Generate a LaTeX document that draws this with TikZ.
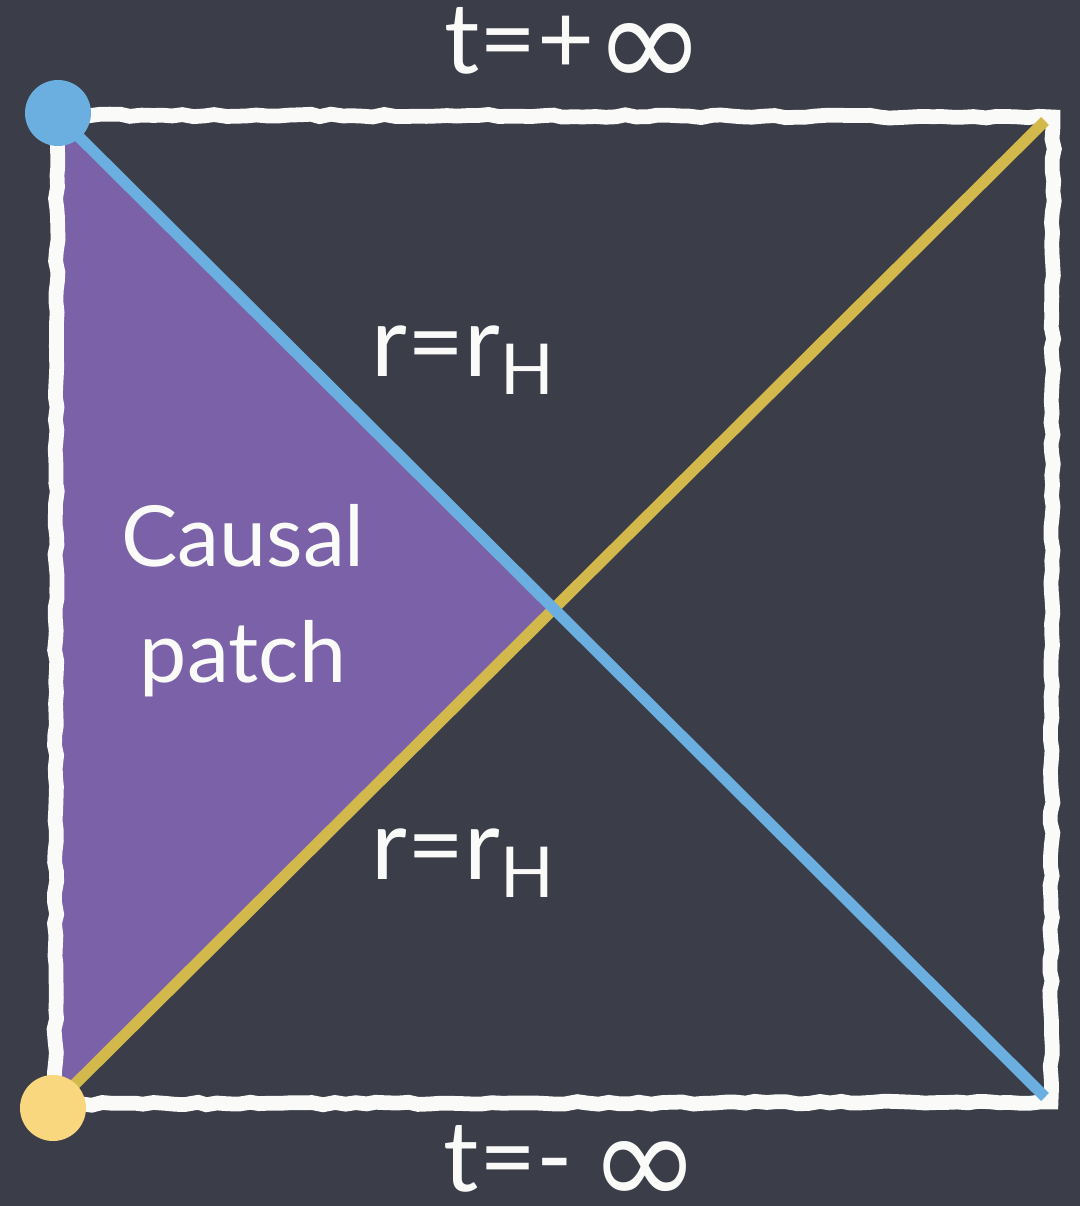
\documentclass[tikz,border=0pt]{standalone}
\usepackage{fontspec}
\setmainfont{Lato}
\newfontfamily\symfont{DejaVu Sans}
\usetikzlibrary{decorations.pathmorphing}
\definecolor{slate}{HTML}{3B3E48}
\definecolor{chalkwhite}{HTML}{FAFAF8}
\definecolor{horizonblue}{HTML}{6AAFE0}
\definecolor{horizongold}{HTML}{D3B84C}
\definecolor{pastgold}{HTML}{F9D77E}
\definecolor{patchpurple}{HTML}{7B62A8}
\newcommand{\bigInf}{\raisebox{-4pt}{\symfont\fontsize{38}{38}\selectfont ∞}}

\begin{document}
\begin{tikzpicture}[
    chalk/.style={draw=chalkwhite, line width=4.2pt,
      decorate, decoration={random steps, segment length=3pt, amplitude=0.4pt}},
    horizon/.style={line width=3.2pt},
    dot/.style={circle, minimum size=0.66cm, inner sep=0pt},
    board/.style={font=\fontsize{28}{34}\selectfont, text=chalkwhite},
    patchlbl/.style={font=\fontsize{24}{33}\selectfont, text=chalkwhite, align=center},
  ]
  % background
  \fill[slate] (0,0) rectangle (10.8,12.06);
  \useasboundingbox (0,0) rectangle (10.8,12.06);

  % corners of the diagram
  \coordinate (tl) at (0.57,10.91);
  \coordinate (tr) at (10.53,10.89);
  \coordinate (bl) at (0.55,1.02);
  \coordinate (br) at (10.51,1.04);
  \coordinate (mid) at (5.52,6.01);

  % causal patch
  \fill[patchpurple] (tl) -- (mid) -- (bl) -- cycle;

  % boundary
  \draw[chalk] (tl) -- (tr) -- (br) -- (bl) -- cycle;

  % horizons
  \coordinate (bluend) at (10.45,1.09);
  \coordinate (goldend) at (10.45,10.85);
  \draw[horizon, horizongold] (bl) -- (goldend);
  \draw[horizon, horizonblue] (tl) -- (bluend);

  % end points
  \node[dot, fill=horizonblue] (future) at (0.58,10.93) {};
  \node[dot, fill=pastgold] (past) at (0.53,0.98) {};

  % labels
  \node[board] (tplus) at (5.75,11.58) {t=+\bigInf};
  \node[board] (tminus) at (5.72,0.40) {t=-\,\bigInf};
  \node[board] (rhup) at (4.63,8.46) {r=r\raisebox{-0.35ex}{\fontsize{20}{24}\selectfont H}};
  \node[board] (rhdown) at (4.63,3.43) {r=r\raisebox{-0.35ex}{\fontsize{20}{24}\selectfont H}};
  \node[patchlbl] (patch) at (2.43,6.05) {Causal\\patch};
\end{tikzpicture}
\end{document}
